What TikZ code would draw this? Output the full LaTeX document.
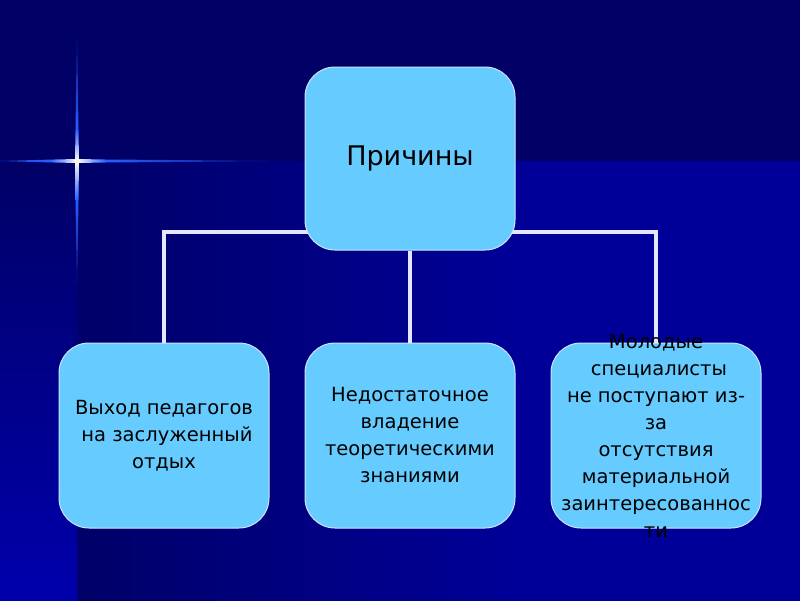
\documentclass[tikz,border=0pt]{standalone}
\usepackage{fontspec}
\setmainfont{DejaVu Sans}
\usepackage{xcolor}
\definecolor{night}{RGB}{0,0,102}
\definecolor{royal}{RGB}{0,0,152}
\definecolor{strip}{RGB}{0,0,172}
\definecolor{sky}{RGB}{102,204,255}
\definecolor{rim}{RGB}{205,228,255}
\definecolor{flare}{RGB}{40,95,255}
\usepackage{tikz}
\usetikzlibrary{positioning}
\pgfdeclarelayer{back}
\pgfdeclarelayer{links}
\pgfsetlayers{back,links,main}

\begin{document}
\begin{tikzpicture}[x=1pt, y=-1pt,
  box/.style={rectangle, rounded corners=30pt, draw=rim, line width=1pt,
              fill=sky, text=black, inner sep=0pt, align=center,
              minimum width=210pt, minimum height=185pt},
  root/.style={box, minimum height=183pt, font=\fontsize{27}{32}\selectfont},
  cause/.style={box, font=\fontsize{19.5}{27}\selectfont},
  causetxt/.style={inner sep=0pt, align=center, text=black,
                   font=\fontsize{19.5}{27}\selectfont},
  link/.style={draw=white!90!blue, line width=3.2pt},
  node distance=35pt,
]
  \useasboundingbox (0,0) rectangle (800,600);

  %% Root
  \node[root](root) at (410,158.5){Причины};

  %% Causes
  \node[cause,below=92pt of root](mid)
    {Недостаточное\\владение\\теоретическими\\знаниями};
  \node[cause,left=of mid](left)
    {Выход педагогов\\\hspace*{0.3em}на заслуженный\\отдых};
  \node[cause,right=of mid,
        label={[causetxt]center:{Молодые\\\hspace*{0.3em}специалисты\\не поступают из-\\за\\отсутствия\\материальной\\заинтересованнос\\ти}}](right){};

  %% Links
  \begin{pgfonlayer}{links}
    \draw[link] ([xshift=10pt,yshift=-73.5pt]root.west) -| (left.north);
    \draw[link] (root.south) -- (mid.north);
    \draw[link] ([xshift=-10pt,yshift=-73.5pt]root.east) -| (right.north);
  \end{pgfonlayer}

  %% Backdrop
  \begin{pgfonlayer}{back}
    \fill[night] (0,0) rectangle (800,600);
    \shade[left color=night!97!royal, right color=royal] (77,161) rectangle (521,601);
    \fill[royal] (520,161) rectangle (801,601);
    \shade[top color=night, bottom color=strip] (-1,161) rectangle (77,601);
    % star
    \shade[left color=flare!70!night, right color=flare]
      (0,161) -- (50,159.6) -- (50,162.4) -- cycle;
    \shade[left color=flare, right color=white]
      (50,159.6) -- (77,159) -- (77,163) -- (50,162.4) -- cycle;
    \shade[left color=white, right color=flare]
      (77,159) -- (105,159.5) -- (105,162.5) -- (77,163) -- cycle;
    \shade[left color=flare, right color=night]
      (105,159.5) -- (300,161) -- (105,162.5) -- cycle;
    \shade[bottom color=white, top color=flare]
      (75,161) -- (75.5,130) -- (78.5,130) -- (79,161) -- cycle;
    \shade[bottom color=flare, top color=night]
      (75.5,130) -- (77,20) -- (78.5,130) -- cycle;
    \shade[top color=white, bottom color=flare]
      (75,161) -- (75.5,200) -- (78.5,200) -- (79,161) -- cycle;
    \shade[top color=flare, bottom color=night]
      (75.5,200) -- (77,300) -- (78.5,200) -- cycle;
    \fill[yellow!20!white] (77,161) circle (2.4);
  \end{pgfonlayer}
\end{tikzpicture}
\end{document}
